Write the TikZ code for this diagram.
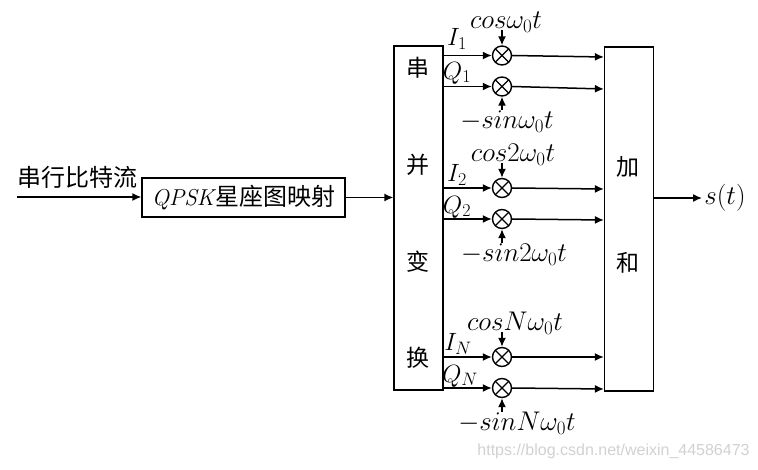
\documentclass[tikz,border=0pt]{standalone}
\usepackage{fix-cm}
\usepackage{fontspec}
\usetikzlibrary{arrows.meta}
\newfontfamily\cjk{Noto Sans CJK SC}
\newfontfamily\markfont{Liberation Sans}
\DeclareMathSizes{27}{27}{19}{14}
\DeclareMathSizes{25}{25}{18}{13}
\DeclareMathSizes{23}{23}{16}{12}
\begin{document}
\begin{tikzpicture}[x=1pt, y=-1pt, font=\fontsize{27}{31}\selectfont, >={Latex[length=9pt,width=8pt]},
    block/.style={draw=black, line width=1.2pt, minimum width=#1, inner sep=0pt},
    tall/.style={block=49pt, minimum height=344pt},
    mixer/.style={draw=black, circle, line width=1.4pt, minimum size=19pt, inner sep=0pt,
      path picture={\draw[line width=1.1pt]
        (path picture bounding box.north west) -- (path picture bounding box.south east)
        (path picture bounding box.north east) -- (path picture bounding box.south west);}},
    wire/.style={->, line width=1.5pt},
    zh/.style={font=\cjk\fontsize{23}{27}\selectfont, inner sep=0pt},
    lab/.style={inner sep=0pt, font=\fontsize{25}{29}\selectfont},
    carrier/.style={inner sep=0pt},
  ]
  \useasboundingbox (0,0) rectangle (758,470);

  % Eingang, Abbildung und die beiden hohen Kaesten
  \coordinate (in) at (17,197);
  \node[zh, font=\cjk\fontsize{24}{27}\selectfont] (title) at (77,177) {串行比特流};
  \node[block=203pt, minimum height=39pt, font=\fontsize{23}{27}\selectfont] (mapper) at (243.5,197.5)
    {$\mathit{QPSK}$\hspace{1pt}{\cjk\fontsize{24}{27}\selectfont 星座图映射}};
  \node[tall] (serial) at (418.5,218) {};
  \node[tall] (adder) at (629,219) {};
  \coordinate (out) at (702,198);
  \node[carrier] (st) at (725,198) {$s(t)$};

  \node[zh] (c1) at (418,68) {串};
  \node[zh] (c2) at (418,165) {并};
  \node[zh] (c3) at (418,262) {变};
  \node[zh] (c4) at (418,358) {换};
  \node[zh] (s1) at (628,167) {加};
  \node[zh] (s2) at (628,263) {和};

  \draw[wire] (in) -- (mapper.west |- in);
  \draw[wire] (mapper.east) -- (mapper.east -| serial.west);
  \draw[wire] (adder.east |- out) -- (out);

  % Mischer mit Pfeilen: \zweig{name}{y Mischer}{y Ende}{y Traeger}{x,y Kanal}{Kanal}{x,y Text}{Text}
  \newcommand{\zweig}[8]{%
    \node[mixer] (#1) at (502,#2) {};
    \coordinate (#1src) at (serial.east |- #1);
    \coordinate (#1end) at (adder.west |- 0,#3);
    \coordinate (#1lo) at (502,#4);
    \draw[wire] (#1src) -- (#1.west);
    \draw[wire] (#1.east) -- (#1end);
    \draw[wire] (#1lo) -- (#1);
    \node[lab] (#1ch) at (#5) {$#6$};
    \node[carrier] (#1txt) at (#7) {$#8$};}

  % ---------------- Zweig 1 -----------------------------------
  \zweig{ma}{55.5}{57}{30}{457,39}{I_1}{506,22}{cos\omega_0t}
  \zweig{mb}{86.5}{89}{110}{457,73}{Q_1}{507,122}{-sin\omega_0t}

  % ---------------- Zweig 2 -----------------------------------
  \zweig{mc}{188}{189}{163}{457,175}{I_2}{513,155}{cos2\omega_0t}
  \zweig{md}{219}{220}{243}{457,207}{Q_2}{514,255}{-sin2\omega_0t}

  % ---------------- Zweig N -----------------------------------
  \zweig{me}{357}{357}{332}{458,344}{I_N}{515,323}{cosN\omega_0t}
  \zweig{mf}{388}{389}{412}{460,376}{Q_N}{517,423}{-sinN\omega_0t}

  \node[inner sep=0pt, text=black!18, font=\markfont\fontsize{16}{18}\selectfont] (mark) at (613.5,451)
    {https://blog.csdn.net/weixin\_44586473};
\end{tikzpicture}
\end{document}
